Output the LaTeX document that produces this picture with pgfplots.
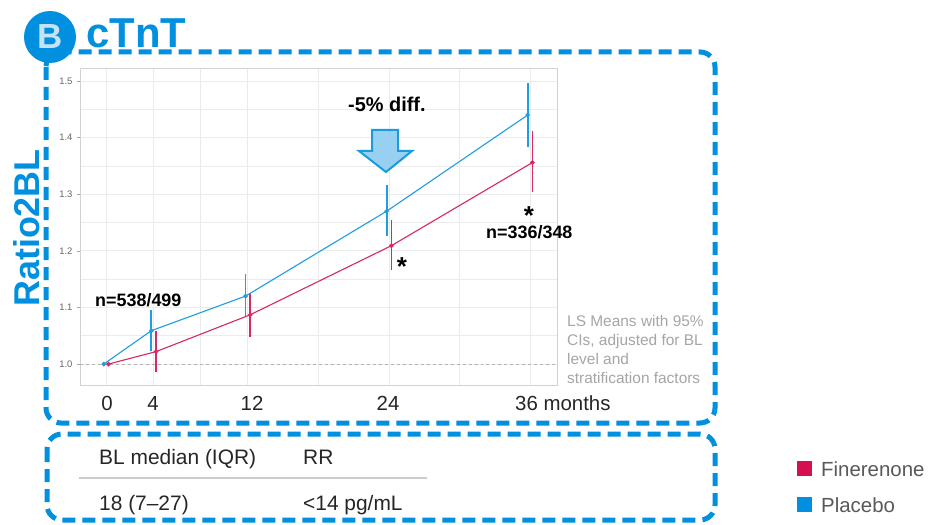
\documentclass[border=0pt]{standalone}
\usepackage{fontspec}
\setmainfont{Liberation Sans}
\usepackage{pgfplots}
\pgfplotsset{compat=1.18}
\definecolor{frameblue}{RGB}{0,144,223}
\definecolor{plac}{RGB}{30,158,224}
\definecolor{fine}{RGB}{214,40,100}
\definecolor{legfine}{RGB}{213,16,80}
\definecolor{legplac}{RGB}{0,144,223}
\definecolor{bletter}{RGB}{197,227,247}
\definecolor{gridc}{RGB}{235,235,235}
\definecolor{notec}{RGB}{166,166,166}
\definecolor{legtxt}{RGB}{89,89,89}
\definecolor{arrowfill}{RGB}{141,203,240}
\definecolor{arrowdraw}{RGB}{26,155,224}
\newcommand{\fs}[1]{\fontsize{#1}{#1}\selectfont}
\begin{document}
\begin{tikzpicture}[x=1bp,y=-1bp]
\path[use as bounding box, fill=white] (0,0) rectangle (930,525);
\begin{axis}[
  at={(80bp,-385bp)}, anchor=south west,
  scale only axis, width=477bp, height=317bp,
  xmin=-2.27, xmax=38.29, ymin=0.963, ymax=1.523,
  xtick={0,4,8,12,18,24,30,36}, xticklabels={},
  xtick style={draw=none},
  ytick={1.0,1.1,1.2,1.3,1.4,1.5},
  minor ytick={1.05,1.15,1.25,1.35,1.45},
  ytick pos=left, tick align=outside, major tick length=3bp,
  ytick style={draw=gray!70, line width=0.5bp},
  minor tick length=0pt,
  grid=both,
  major grid style={draw=gridc, line width=0.8bp},
  minor grid style={draw=gridc, line width=0.6bp},
  axis line style={draw=gray!35, line width=0.8bp},
  yticklabel style={font=\fs{9.5}, text=gray!80!black, xshift=-1bp, /pgf/number format/fixed, /pgf/number format/fixed zerofill, /pgf/number format/precision=1},
  /pgf/number format/assume math mode=true,
  unbounded coords=jump,
  clip=false,
]
\addplot[gray!60, dashed, line width=0.7bp] coordinates {(-2.27,1) (38.29,1)};
% 95% CIs (placebo)
\addplot[color=plac, line width=1.9bp, mark=none] coordinates {
 (3.8,1.023) (3.8,1.095) (3.8,nan)
 (11.8,1.085) (11.8,1.159) (11.8,nan)
 (23.8,1.227) (23.8,1.316) (23.8,nan)
 (35.8,1.384) (35.8,1.497)};
% 95% CIs (finerenone)
\addplot[color=fine, line width=1.6bp, mark=none] coordinates {
 (4.2,0.986) (4.2,1.058) (4.2,nan)
 (12.2,1.048) (12.2,1.125) (12.2,nan)
 (24.2,1.166) (24.2,1.254) (24.2,nan)
 (36.2,1.304) (36.2,1.412)};
% LS means
\addplot[color=plac, line width=1.1bp, mark=*, mark size=1.7bp] coordinates {
 (-0.25,1.000) (3.8,1.059) (11.8,1.120) (23.8,1.270) (35.8,1.440)};
\addplot[color=fine, line width=1.1bp, mark=*, mark size=1.7bp] coordinates {
 (0.15,1.000) (4.2,1.022) (12.2,1.087) (24.2,1.209) (36.2,1.356)};
\end{axis}
% frames
\draw[frameblue, line width=5bp, dash pattern=on 13bp off 7bp, rounded corners=15bp] (46,52) rectangle (715,423);
\draw[frameblue, line width=5bp, dash pattern=on 13bp off 7bp, rounded corners=15bp] (47,434) rectangle (715,520);
% title
\fill[frameblue] (50,37) circle (26);
\node[font=\bfseries\fs{35}, text=bletter, inner sep=0] at (50,37) {B};
\node[anchor=base west, font=\bfseries\fs{42}, text=frameblue, inner sep=0] at (86,48) {cTnT};
\node[rotate=90, font=\bfseries\fs{36}, text=frameblue, inner sep=0] at (27,228) {Ratio2BL};
% x labels
\foreach \xx/\lab in {107/0,153/4,252/12,388/24}{
  \node[anchor=base, font=\fs{20.5}, text=black!85, inner sep=0] at (\xx,410) {\lab};
}
\node[anchor=base west, font=\fs{20.5}, text=black!85, inner sep=0] at (515,410) {36 months};
% annotations
\node[anchor=base west, font=\bfseries\fs{18}, inner sep=0] at (95,307) {n=538/499};
\node[anchor=base west, font=\bfseries\fs{20}, inner sep=0] at (348,112) {-5\% diff.};
\node[anchor=base west, font=\bfseries\fs{18}, inner sep=0] at (486,238.5) {n=336/348};
\node[anchor=base, font=\bfseries\fs{26}, inner sep=0] at (402,276) {*};
\node[anchor=base, font=\bfseries\fs{26}, inner sep=0] at (529,225) {*};
\draw[arrowdraw, fill=arrowfill, fill opacity=0.9, line width=2bp, line join=miter]
  (372,130) -- (398,130) -- (398,151) -- (412,151) -- (386,172) -- (359,151) -- (372,151) -- cycle;
% note
\foreach \yy/\t in {326.5/{LS Means with 95\%},345.5/{CIs, adjusted for BL},364.5/{level and},383.5/{stratification factors}}{
  \node[anchor=base west, font=\fs{15.5}, text=notec, inner sep=0] at (567,\yy) {\t};
}
% table
\node[anchor=base west, font=\fs{21}, text=black!85, inner sep=0] at (99,464) {BL median (IQR)};
\node[anchor=base west, font=\fs{21}, text=black!85, inner sep=0] at (303,464) {RR};
\draw[gray!40, line width=2bp] (79,478) -- (427,478);
\node[anchor=base west, font=\fs{21}, text=black!85, inner sep=0] at (99,510.5) {18 (7–27)};
\node[anchor=base west, font=\fs{21}, text=black!85, inner sep=0] at (303,510.5) {<14 pg/mL};
% legend
\fill[legfine] (797,461) rectangle (812,476);
\fill[legplac] (797,497) rectangle (812,512);
\node[anchor=base west, font=\fs{20.5}, text=legtxt, inner sep=0] at (821,476.5) {Finerenone};
\node[anchor=base west, font=\fs{20.5}, text=legtxt, inner sep=0] at (821,512.5) {Placebo};
\end{tikzpicture}
\end{document}
